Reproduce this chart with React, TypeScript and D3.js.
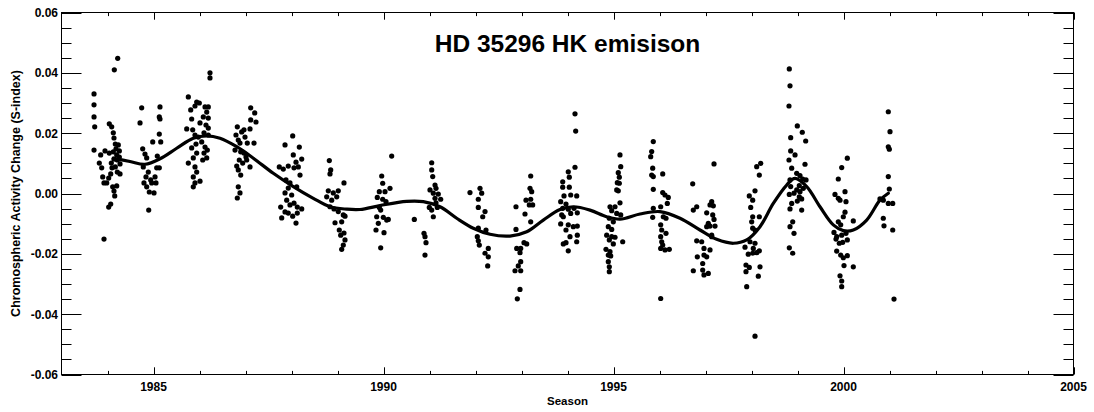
import React, { useEffect, useRef } from 'react';
import * as d3 from 'd3';

// Observing seasons: [season (year), S-index change]
const season1984 = [
  [1983.707, 0.0330], [1983.707, 0.0294], [1983.707, 0.0254], [1983.722, 0.0221], [1983.707, 0.0144],
  [1983.924, -0.0151], [1984.148, 0.0410], [1984.222, 0.0448], [1983.852, 0.0128], [1983.946, 0.0141],
  [1984.039, 0.0134], [1983.822, 0.0101], [1983.874, 0.0085], [1983.896, 0.0055], [1983.924, 0.0035],
  [1983.983, 0.0035], [1984.026, 0.0051], [1984.070, 0.0065], [1984.039, 0.0231], [1984.091, 0.0221],
  [1984.126, 0.0201], [1984.141, 0.0184], [1984.170, 0.0164], [1984.235, 0.0161], [1984.257, 0.0141],
  [1984.200, 0.0128], [1984.141, 0.0114], [1984.170, 0.0088], [1984.213, 0.0071], [1984.272, 0.0065],
  [1984.098, 0.0085], [1984.113, 0.0022], [1984.141, 0.0008], [1984.157, -0.0008], [1984.070, -0.0035],
  [1984.026, -0.0045], [1984.200, 0.0025], [1984.272, 0.0098], [1984.213, 0.0111], [1984.126, 0.0138],
  [1984.083, 0.0101], [1984.185, 0.0148], [1984.257, 0.0121],
];
const season1985 = [
  [1984.743, 0.0284], [1984.707, 0.0234], [1985.141, 0.0287], [1985.126, 0.0254], [1985.141, 0.0247],
  [1985.126, 0.0197], [1984.983, 0.0171], [1985.157, 0.0171], [1984.765, 0.0148], [1984.815, 0.0131],
  [1984.852, 0.0118], [1984.778, 0.0088], [1984.887, 0.0071], [1984.837, 0.0055], [1984.793, 0.0035],
  [1984.852, 0.0022], [1984.909, 0.0005], [1985.011, 0.0002], [1984.961, 0.0035], [1985.054, 0.0035],
  [1985.033, 0.0055], [1985.070, 0.0085], [1985.126, 0.0085], [1985.083, 0.0124], [1984.896, -0.0055],
  [1984.939, 0.0045],
];
const season1986 = [
  [1985.757, 0.0320], [1985.939, 0.0303], [1985.902, 0.0290], [1985.809, 0.0277], [1985.830, 0.0247],
  [1985.722, 0.0214], [1985.852, 0.0211], [1985.902, 0.0194], [1985.974, 0.0187], [1985.924, 0.0164],
  [1985.830, 0.0151], [1985.939, 0.0134], [1985.757, 0.0101], [1985.865, 0.0118], [1985.902, 0.0088],
  [1985.939, 0.0071], [1985.865, 0.0055], [1985.902, 0.0035], [1985.865, 0.0022], [1986.011, 0.0041],
  [1986.228, 0.0400], [1986.228, 0.0383], [1986.120, 0.0287], [1986.191, 0.0287], [1986.157, 0.0270],
  [1986.083, 0.0254], [1986.191, 0.0250], [1986.141, 0.0227], [1986.098, 0.0201], [1986.191, 0.0194],
  [1986.048, 0.0171], [1986.120, 0.0154], [1986.170, 0.0144], [1986.098, 0.0134], [1986.157, 0.0118],
  [1986.070, 0.0111], [1986.191, 0.0217], [1986.011, 0.0234], [1985.996, 0.0300],
];
const season1987 = [
  [1987.113, 0.0284], [1987.200, 0.0267], [1987.113, 0.0244], [1987.228, 0.0237], [1986.822, 0.0221],
  [1986.917, 0.0204], [1986.967, 0.0211], [1987.098, 0.0214], [1986.793, 0.0194], [1986.843, 0.0177],
  [1986.880, 0.0167], [1987.039, 0.0167], [1987.185, 0.0167], [1986.989, 0.0187], [1986.772, 0.0144],
  [1986.896, 0.0138], [1986.967, 0.0134], [1987.011, 0.0121], [1986.865, 0.0111], [1986.809, 0.0091],
  [1986.939, 0.0101], [1987.098, 0.0088], [1986.843, 0.0078], [1986.896, 0.0061], [1986.843, 0.0022],
  [1986.880, 0.0002], [1986.822, -0.0015], [1987.026, 0.0111],
];
const season1988 = [
  [1988.026, 0.0191], [1987.859, 0.0161], [1988.170, 0.0154], [1988.039, 0.0128], [1988.222, 0.0114],
  [1988.098, 0.0104], [1987.735, 0.0088], [1987.822, 0.0081], [1987.930, 0.0091], [1988.054, 0.0085],
  [1988.148, 0.0088], [1988.185, 0.0061], [1987.880, 0.0045], [1987.967, 0.0035], [1987.930, 0.0018],
  [1987.859, 0.0002], [1988.004, -0.0005], [1987.896, -0.0022], [1988.054, -0.0032], [1987.967, -0.0038],
  [1988.126, -0.0045], [1988.222, -0.0051], [1987.765, -0.0045], [1987.859, -0.0061], [1987.930, -0.0065],
  [1988.126, -0.0065], [1987.787, -0.0081], [1988.026, -0.0075], [1988.098, -0.0098], [1988.113, 0.0022],
];
const season1989 = [
  [1988.822, 0.0109], [1988.852, 0.0078], [1988.837, 0.0065], [1989.141, 0.0035], [1988.800, 0.0009],
  [1988.909, 0.0002], [1989.017, 0.0009], [1988.765, -0.0011], [1988.874, -0.0022], [1988.983, -0.0011],
  [1988.837, -0.0044], [1988.924, -0.0051], [1989.017, -0.0060], [1989.126, -0.0071], [1989.163, -0.0075],
  [1988.946, -0.0097], [1989.091, -0.0094], [1989.039, -0.0121], [1989.141, -0.0131], [1989.070, -0.0138],
  [1989.163, -0.0154], [1989.126, -0.0171], [1989.091, -0.0185],
];
const season1990 = [
  [1990.178, 0.0124], [1989.961, 0.0058], [1989.983, 0.0034], [1990.141, 0.0017], [1989.909, 0.0006],
  [1990.033, 0.0006], [1989.865, -0.0013], [1989.983, -0.0019], [1990.054, -0.0027], [1989.939, -0.0055],
  [1989.852, -0.0077], [1989.996, -0.0079], [1990.104, -0.0086], [1989.887, -0.0099], [1990.070, -0.0088],
  [1989.837, -0.0121], [1990.011, -0.0130], [1989.939, -0.0180], [1989.909, -0.0046], [1990.670, -0.0086],
];
const season1991 = [
  [1991.048, 0.0102], [1991.048, 0.0078], [1991.070, 0.0056], [1991.120, 0.0028], [1991.011, 0.0012],
  [1991.141, 0.0017], [1991.083, 0.0001], [1991.191, -0.0002], [1991.243, -0.0019], [1991.120, -0.0016],
  [1990.996, -0.0046], [1991.048, -0.0055], [1991.170, -0.0046], [1991.083, -0.0077], [1990.880, -0.0132],
  [1990.902, -0.0143], [1990.924, -0.0163], [1990.902, -0.0204], [1991.141, -0.0031],
];
const season1992 = [
  [1991.880, 0.0003], [1992.098, 0.0017], [1992.135, 0.0001], [1992.061, -0.0019], [1992.061, -0.0046],
  [1992.207, -0.0060], [1992.157, -0.0077], [1992.061, -0.0115], [1992.228, -0.0121], [1992.039, -0.0143],
  [1992.061, -0.0157], [1992.083, -0.0171], [1992.278, -0.0182], [1992.207, -0.0198], [1992.278, -0.0210],
  [1992.265, -0.0240],
];
const season1993 = [
  [1992.880, -0.0044], [1993.200, 0.0058], [1993.185, 0.0017], [1993.222, 0.0006], [1993.098, -0.0022],
  [1993.200, -0.0019], [1993.170, -0.0038], [1993.243, -0.0038], [1993.076, -0.0068], [1993.200, -0.0094],
  [1992.880, -0.0119], [1993.054, -0.0163], [1993.113, -0.0167], [1992.896, -0.0182], [1992.983, -0.0182],
  [1992.967, -0.0196], [1992.983, -0.0226], [1992.930, -0.0240], [1992.859, -0.0256], [1992.983, -0.0256],
  [1992.967, -0.0318], [1992.909, -0.0349],
];
const season1994 = [
  [1994.163, 0.0264], [1994.178, 0.0207], [1994.163, 0.0087], [1994.017, 0.0072], [1994.039, 0.0054],
  [1993.896, 0.0039], [1994.039, 0.0021], [1993.896, 0.0021], [1994.070, -0.0005], [1993.924, -0.0008],
  [1994.200, -0.0008], [1993.852, -0.0027], [1993.967, -0.0035], [1993.896, -0.0049], [1994.017, -0.0052],
  [1994.141, -0.0049], [1994.213, -0.0064], [1993.874, -0.0071], [1994.070, -0.0066], [1993.909, -0.0077],
  [1993.852, -0.0101], [1994.017, -0.0104], [1994.126, -0.0110], [1994.213, -0.0108], [1993.967, -0.0121],
  [1994.054, -0.0143], [1994.213, -0.0138], [1993.967, -0.0163], [1993.909, -0.0167], [1994.200, -0.0160],
  [1994.017, -0.0190],
];
const season1995 = [
  [1995.141, 0.0128], [1995.157, 0.0089], [1995.104, 0.0069], [1995.126, 0.0054], [1995.083, 0.0036],
  [1995.126, 0.0034], [1995.070, 0.0012], [1995.104, 0.0009], [1995.141, -0.0031], [1994.924, -0.0044],
  [1995.033, -0.0044], [1994.961, -0.0057], [1995.070, -0.0066], [1995.157, -0.0071], [1994.909, -0.0082],
  [1994.996, -0.0094], [1994.887, -0.0110], [1994.961, -0.0119], [1994.852, -0.0138], [1994.961, -0.0143],
  [1995.033, -0.0145], [1995.200, -0.0160], [1994.909, -0.0154], [1994.996, -0.0167], [1994.837, -0.0185],
  [1994.924, -0.0193], [1994.887, -0.0204], [1994.939, -0.0207], [1994.887, -0.0226], [1994.909, -0.0243],
  [1994.909, -0.0259],
];
const season1996 = [
  [1995.865, 0.0172], [1995.830, 0.0139], [1995.809, 0.0122], [1995.852, 0.0084], [1995.830, 0.0061],
  [1995.865, 0.0056], [1996.070, 0.0065], [1995.865, 0.0014], [1996.070, 0.0003], [1996.120, -0.0005],
  [1996.191, -0.0013], [1996.170, -0.0033], [1995.865, -0.0049], [1996.026, -0.0044], [1995.852, -0.0079],
  [1996.083, -0.0077], [1996.141, -0.0082], [1996.026, -0.0104], [1996.048, -0.0121], [1996.141, -0.0132],
  [1996.026, -0.0143], [1996.048, -0.0160], [1996.070, -0.0171], [1996.026, -0.0182], [1996.120, -0.0187],
  [1996.213, -0.0185], [1996.026, -0.0348],
];
const season1997 = [
  [1997.185, 0.0098], [1996.722, 0.0032], [1996.735, -0.0055], [1996.809, -0.0044], [1997.135, -0.0027],
  [1997.098, -0.0038], [1997.170, -0.0041], [1997.026, -0.0064], [1997.157, -0.0071], [1997.185, -0.0086],
  [1997.061, -0.0099], [1997.098, -0.0108], [1997.026, -0.0110], [1997.207, -0.0108], [1997.135, -0.0138],
  [1996.809, -0.0157], [1996.917, -0.0160], [1996.967, -0.0182], [1997.098, -0.0187], [1996.822, -0.0210],
  [1996.967, -0.0204], [1997.026, -0.0210], [1996.939, -0.0232], [1996.735, -0.0256], [1996.939, -0.0254],
  [1996.967, -0.0270], [1997.061, -0.0265], [1997.135, -0.0143],
];
const season1998 = [
  [1998.200, 0.0100], [1998.113, 0.0089], [1998.170, 0.0061], [1998.076, 0.0009], [1997.952, -0.0008],
  [1998.026, -0.0022], [1997.983, -0.0046], [1998.026, -0.0077], [1998.170, -0.0077], [1998.004, -0.0094],
  [1998.026, -0.0115], [1998.076, -0.0121], [1997.967, -0.0160], [1998.076, -0.0165], [1997.859, -0.0178],
  [1998.039, -0.0182], [1998.170, -0.0190], [1997.930, -0.0201], [1998.026, -0.0198], [1998.113, -0.0196],
  [1997.880, -0.0237], [1997.952, -0.0245], [1998.185, -0.0243], [1997.880, -0.0259], [1998.148, -0.0274],
  [1997.896, -0.0309], [1998.076, -0.0473],
];
const season1999 = [
  [1998.822, 0.0413], [1998.837, 0.0357], [1998.815, 0.0290], [1998.996, 0.0224], [1999.104, 0.0203],
  [1998.852, 0.0185], [1999.178, 0.0174], [1998.852, 0.0141], [1998.946, 0.0128], [1998.815, 0.0111],
  [1999.163, 0.0097], [1998.874, 0.0084], [1998.983, 0.0067], [1999.054, 0.0059], [1998.837, 0.0045],
  [1999.113, 0.0048], [1999.185, 0.0045], [1998.852, 0.0023], [1998.983, 0.0012], [1999.054, 0.0006],
  [1999.126, 0.0017], [1998.924, 0.0001], [1998.822, -0.0003], [1999.039, -0.0011], [1999.091, -0.0018],
  [1998.996, -0.0025], [1998.874, -0.0033], [1998.837, -0.0051], [1999.091, -0.0055], [1998.896, -0.0094],
  [1998.837, -0.0110], [1998.924, -0.0132], [1998.822, -0.0180], [1998.896, -0.0198], [1999.039, 0.0026],
];
const season2000 = [
  [2000.083, 0.0117], [1999.961, 0.0086], [1999.887, 0.0048], [2000.033, 0.0006], [1999.815, -0.0003],
  [1999.887, -0.0016], [1999.924, -0.0022], [2000.054, -0.0027], [2000.033, -0.0062], [1999.996, -0.0077],
  [2000.213, -0.0091], [1999.887, -0.0094], [1999.939, -0.0104], [2000.054, -0.0132], [1999.793, -0.0129],
  [1999.852, -0.0143], [1999.961, -0.0138], [1999.837, -0.0151], [1999.909, -0.0165], [1999.983, -0.0162],
  [2000.083, -0.0154], [1999.852, -0.0191], [1999.939, -0.0204], [1999.996, -0.0213], [2000.083, -0.0206],
  [2000.011, -0.0239], [2000.213, -0.0243], [1999.924, -0.0273], [1999.961, -0.0290], [1999.961, -0.0309],
];
const season2001 = [
  [2000.974, 0.0271], [2001.011, 0.0205], [2000.974, 0.0155], [2000.996, 0.0147], [2000.974, 0.0056],
  [2000.996, 0.0015], [2000.793, -0.0018], [2000.865, -0.0022], [2000.974, -0.0033], [2001.070, -0.0033],
  [2000.865, -0.0082], [2000.880, -0.0107], [2001.070, -0.0121], [2001.098, -0.0350],
];

const seasons = [
  season1984, season1985, season1986, season1987, season1988, season1989, season1990, season1991, season1992,
  season1993, season1994, season1995, season1996, season1997, season1998, season1999, season2000, season2001,
];

// Smooth fit through the seasonal data
const fitYears = [
  1984.126, 1984.489, 1984.815, 1985.141, 1985.504, 1985.865, 1986.157, 1986.446, 1986.809, 1987.170,
  1987.604, 1988.039, 1988.474, 1988.837, 1989.200, 1989.489, 1989.924, 1990.504, 1990.865, 1991.228,
  1991.591, 1991.952, 1992.315, 1992.750, 1993.113, 1993.474, 1993.837, 1994.126, 1994.489, 1994.852,
  1995.141, 1995.576, 1996.011, 1996.446, 1996.880, 1997.243, 1997.604, 1997.896, 1998.185, 1998.474,
  1998.765, 1998.946, 1999.200, 1999.489, 1999.778, 1999.996, 2000.213, 2000.504, 2000.793, 2000.974,
];
const fitValues = [
  0.0117, 0.0106, 0.0097, 0.0115, 0.0150, 0.0183, 0.0191, 0.0183, 0.0155, 0.0117,
  0.0067, 0.0023, -0.0016, -0.0044, -0.0052, -0.0053, -0.0040, -0.0026, -0.0027, -0.0044,
  -0.0082, -0.0115, -0.0135, -0.0141, -0.0127, -0.0088, -0.0053, -0.0044, -0.0055, -0.0077,
  -0.0085, -0.0068, -0.0060, -0.0082, -0.0121, -0.0152, -0.0165, -0.0154, -0.0110, -0.0033,
  0.0028, 0.0050, 0.0023, -0.0044, -0.0104, -0.0123, -0.0121, -0.0088, -0.0022, 0.0001,
];

const xMajorTicks = [1985, 1990, 1995, 2000, 2005];
const yMajorTicks = [-0.06, -0.04, -0.02, 0.0, 0.02, 0.04, 0.06];
const yTickLabels = ['-0.06', '-0.04', '-0.02', '0.00', '0.02', '0.04', '0.06'];

const TITLE = 'HD 35296 HK emisison';
const X_TITLE = 'Season';
const Y_TITLE = 'Chromospheric Activity Change (S-index)';

export default function App() {
  const ref = useRef<SVGSVGElement>(null);

  useEffect(() => {
    const svg = d3.select(ref.current);
    svg.selectAll('*').remove();

    const left = 61.5, right = 1073.5, top = 12.5, bottom = 374.5;
    const x = d3.scaleLinear().domain([1983, 2005]).range([left, right]);
    const y = d3.scaleLinear().domain([-0.06, 0.06]).range([bottom, top]);
    const font = "'Liberation Sans', Arial, Helvetica, sans-serif";

    svg.append('rect').attr('x', 0).attr('y', 0).attr('width', 1094).attr('height', 412).attr('fill', '#fff');

    const g = svg.append('g');

    // Frame
    g.append('rect')
      .attr('x', left).attr('y', top)
      .attr('width', right - left).attr('height', bottom - top)
      .attr('fill', 'none').attr('stroke', '#000').attr('stroke-width', 1);

    const xMinor = d3.range(1984, 2005, 1).filter((v) => v % 5 !== 0);
    const yMinor = d3.range(-55, 60, 5).map((v) => v / 1000).filter((v) => Math.round(v * 1000) % 20 !== 0);

    const xMaj = 7.2, xMin = 3.6, yMaj = 20, yMin = 10;
    const tickStroke = '#000';

    const drawX = (vals: number[], len: number) => {
      vals.forEach((v) => {
        const px = Math.round(x(v)) + 0.5;
        g.append('line').attr('x1', px).attr('x2', px).attr('y1', bottom).attr('y2', bottom - len)
          .attr('stroke', tickStroke).attr('stroke-width', 1);
        g.append('line').attr('x1', px).attr('x2', px).attr('y1', top).attr('y2', top + len)
          .attr('stroke', tickStroke).attr('stroke-width', 1);
      });
    };
    drawX(xMajorTicks, xMaj);
    drawX(xMinor, xMin);

    const drawY = (vals: number[], len: number) => {
      vals.forEach((v) => {
        const py = Math.round(y(v)) + 0.5;
        g.append('line').attr('x1', left).attr('x2', left + len).attr('y1', py).attr('y2', py)
          .attr('stroke', tickStroke).attr('stroke-width', 1);
        g.append('line').attr('x1', right).attr('x2', right - len).attr('y1', py).attr('y2', py)
          .attr('stroke', tickStroke).attr('stroke-width', 1);
      });
    };
    drawY(yMajorTicks, yMaj);
    drawY(yMinor, yMin);

    // tick labels
    xMajorTicks.forEach((v) => {
      g.append('text').attr('x', x(v)).attr('y', 391)
        .attr('text-anchor', 'middle').attr('font-family', font).attr('font-size', 12)
        .attr('font-weight', 'bold')
        .attr('fill', '#000').text(String(v));
    });
    yMajorTicks.forEach((v, i) => {
      g.append('text').attr('x', 58).attr('y', y(v) + 4.5)
        .attr('text-anchor', 'end').attr('font-family', font).attr('font-size', 12)
        .attr('font-weight', 'bold')
        .attr('fill', '#000').text(yTickLabels[i]);
    });

    // axis titles
    g.append('text').attr('x', 567.5).attr('y', 405)
      .attr('text-anchor', 'middle').attr('font-family', font).attr('font-size', 11.5)
      .attr('font-weight', 'bold')
      .attr('fill', '#000').text(X_TITLE);
    g.append('text')
      .attr('transform', `translate(20,${(top + bottom) / 2}) rotate(-90)`)
      .attr('text-anchor', 'middle').attr('font-family', font).attr('font-size', 12.5)
      .attr('font-weight', 'bold')
      .attr('fill', '#000').text(Y_TITLE);

    // title
    g.append('text').attr('x', 567.5).attr('y', 52)
      .attr('text-anchor', 'middle').attr('font-family', font).attr('font-size', 24.5)
      .attr('font-weight', 'bold').attr('fill', '#000').text(TITLE);

    // points
    const pts = seasons.flat();
    g.append('g').selectAll('circle').data(pts).join('circle')
      .attr('cx', (d) => x(d[0])).attr('cy', (d) => y(d[1]))
      .attr('r', 2.6).attr('fill', '#000');

    // fit curve
    const fit = fitYears.map((yr, i) => [yr, fitValues[i]] as [number, number]);
    const line = d3.line<[number, number]>()
      .x((d) => x(d[0])).y((d) => y(d[1]))
      .curve(d3.curveCatmullRom.alpha(0.5));
    g.append('path').attr('d', line(fit) as string)
      .attr('fill', 'none').attr('stroke', '#000').attr('stroke-width', 3.2)
      .attr('stroke-linejoin', 'round').attr('stroke-linecap', 'round');
  }, []);

  return (
    <svg
      ref={ref}
      width={1094}
      height={412}
      style={{ position: 'absolute', left: 0, top: 0, display: 'block' }}
    />
  );
}
